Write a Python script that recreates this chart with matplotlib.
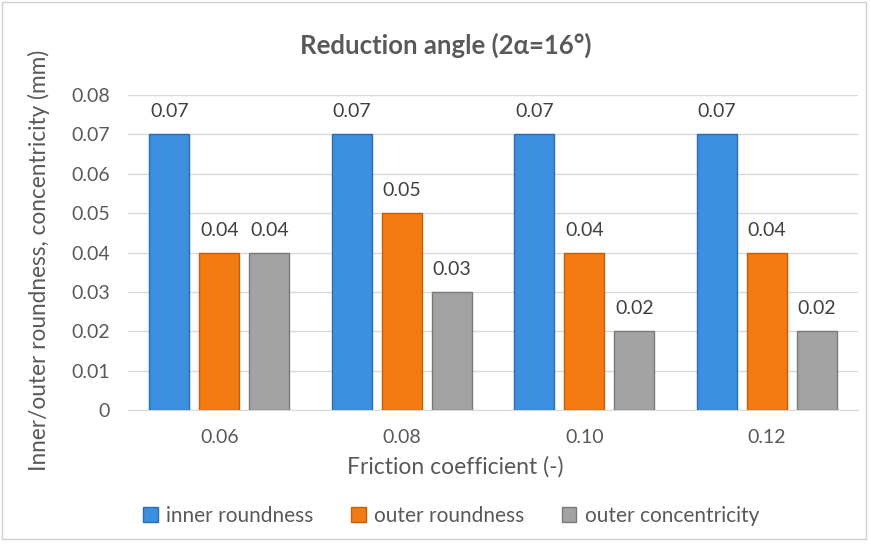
import matplotlib
matplotlib.use("Agg")
import matplotlib.pyplot as plt
import numpy as np
from matplotlib.patches import Rectangle

# data
categories = ["0.06", "0.08", "0.10", "0.12"]
inner_roundness = [0.07, 0.07, 0.07, 0.07]
outer_roundness = [0.04, 0.05, 0.04, 0.04]
outer_concentricity = [0.04, 0.03, 0.02, 0.02]
series_names = ["inner roundness", "outer roundness", "outer concentricity"]
yticks = [0, 0.01, 0.02, 0.03, 0.04, 0.05, 0.06, 0.07, 0.08]

colors = ["#3d8fdf", "#f47b12", "#a3a3a3"]
edges = ["#2a6db0", "#c55e08", "#7a7a7a"]
text_gray = "#595959"

plt.rcParams['font.family'] = ['Lato', 'DejaVu Sans']

fig = plt.figure(figsize=(8.71, 5.47), dpi=100)
ax = fig.add_axes([128/871, 1 - 410/547, 730/871, 315/547])

x = np.arange(len(categories))
width = 0.22
offset = 0.274
all_series = [inner_roundness, outer_roundness, outer_concentricity]
for i, vals in enumerate(all_series):
    pos = x + (i - 1) * offset
    bars = ax.bar(pos, vals, width, color=colors[i], edgecolor=edges[i],
                  linewidth=1.0, label=series_names[i], zorder=3)
    for b, v in zip(bars, vals):
        ax.annotate(f"{v:.2f}", (b.get_x() + b.get_width() / 2, v),
                    xytext=(0, 10), textcoords="offset points",
                    ha="center", va="bottom", fontsize=14, color="#404040")

ax.set_xlim(-0.5, len(categories) - 0.5)
ax.set_ylim(0, 0.08)
ax.set_yticks(yticks)
ax.set_yticklabels(["0"] + [f"{t:.2f}" for t in yticks[1:]])
ax.set_xticks(x)
ax.set_xticklabels(categories)
ax.tick_params(axis="both", length=0, labelsize=14, labelcolor=text_gray)
ax.tick_params(axis="y", pad=13)
ax.tick_params(axis="x", pad=14)
ax.grid(axis="y", color="#d9d9d9", linewidth=1, zorder=0)
for s in ["top", "right", "left"]:
    ax.spines[s].set_visible(False)
ax.spines["bottom"].set_color("#d9d9d9")

ax.set_xlabel("Friction coefficient (-)", fontsize=16.5, color=text_gray)
ax.xaxis.set_label_coords((455 - 128) / 730, (410 - 456) / 315)
ax.set_ylabel("Inner/outer roundness, concentricity (mm)", fontsize=16.3,
              color=text_gray)
ax.yaxis.set_label_coords((50 - 128) / 730, (410 - 260) / 315)
fig.text(0.512, 1 - 45/547, "Reduction angle (2α=16°)", ha="center", va="center",
         fontsize=18.5, fontweight="bold", color=text_gray)

leg = fig.legend(loc="center", bbox_to_anchor=(0.518, 1 - 516/547), ncol=3,
                 frameon=False, fontsize=15, handlelength=0.7, handleheight=0.7,
                 handletextpad=0.4, columnspacing=1.8)
for t in leg.get_texts():
    t.set_color(text_gray)

fig.patches.append(Rectangle((2/871, 8/547), 864/871, 537/547, transform=fig.transFigure,
                             fill=False, edgecolor="#d0d0d0", linewidth=1))

fig.savefig("out.png", dpi=100)
